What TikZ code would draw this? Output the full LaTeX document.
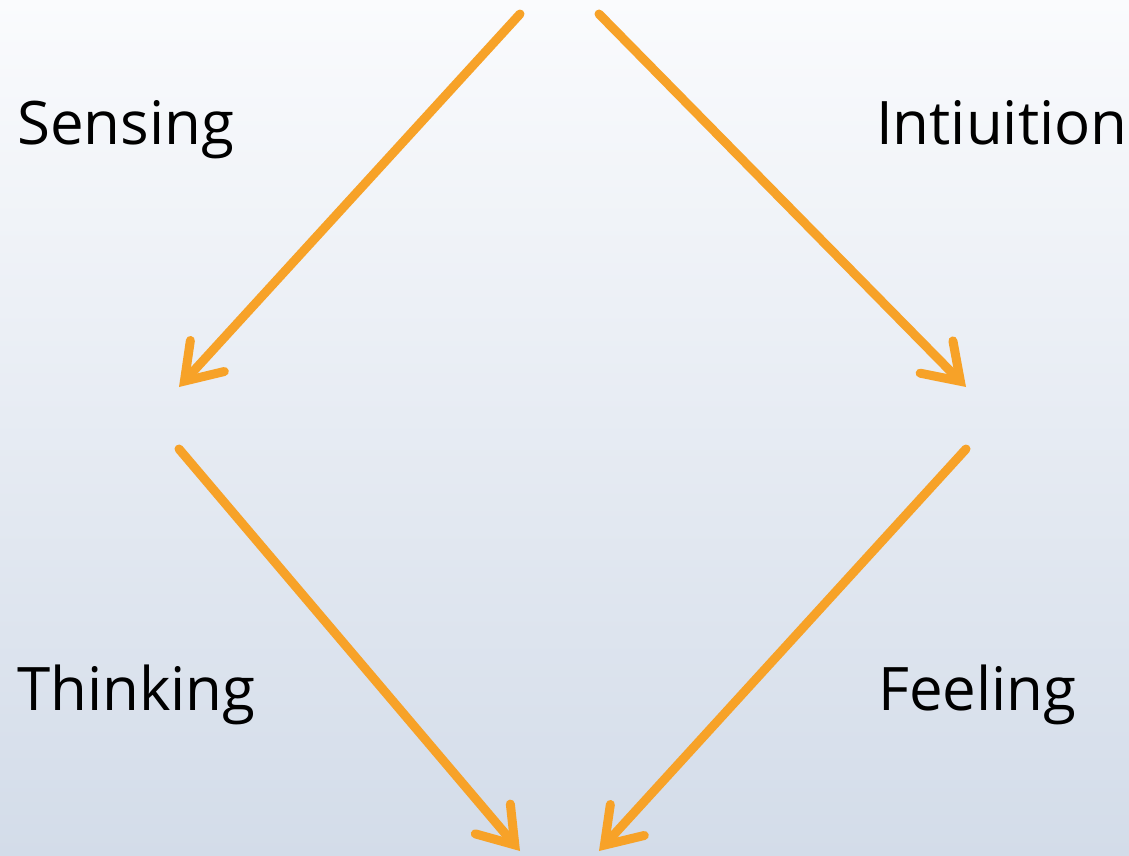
\documentclass[tikz,border=0pt]{standalone}
\usepackage{fontspec}
\setmainfont{Open Sans}
\usetikzlibrary{arrows.meta}
\definecolor{arrorange}{RGB}{247,162,40}
\definecolor{bgtop}{RGB}{250,251,253}
\definecolor{bgbot}{RGB}{211,220,233}

\begin{document}
\begin{tikzpicture} [x=1pt, y=-1pt,
every node/.style = {anchor=base west, inner sep=0pt, font=\fontsize{60}{70}\selectfont},
flow/.style = {draw=arrorange, line width=9pt, line cap=round,
-{Straight Barb[length=34pt, width=46pt, line cap=round, line join=miter]}}]
\shade [top color=bgtop, bottom color=bgbot] (0,0) rectangle (1129,856);
\useasboundingbox (0,0) rectangle (1129,856);
% labels
\node (sens) at (17,144) {Sensing};
\node (intu) at (876,144) {Intiuition};
\node (think) at (17,710) {Thinking};
\node (feel) at (878,710) {Feeling};
% arrow ends
\coordinate (topL) at (520,14);
\coordinate (topR) at (599,14);
\coordinate (midLa) at (179,387);
\coordinate (midRa) at (966,387);
\coordinate (midLb) at (179,449);
\coordinate (midRb) at (966,449);
\coordinate (botL) at (520,851);
\coordinate (botR) at (599,851);
\draw [flow] (topL) -- (midLa);
\draw [flow] (topR) -- (midRa);
\draw [flow] (midLb) -- (botL);
\draw [flow] (midRb) -- (botR);
\end{tikzpicture}
\end{document}
